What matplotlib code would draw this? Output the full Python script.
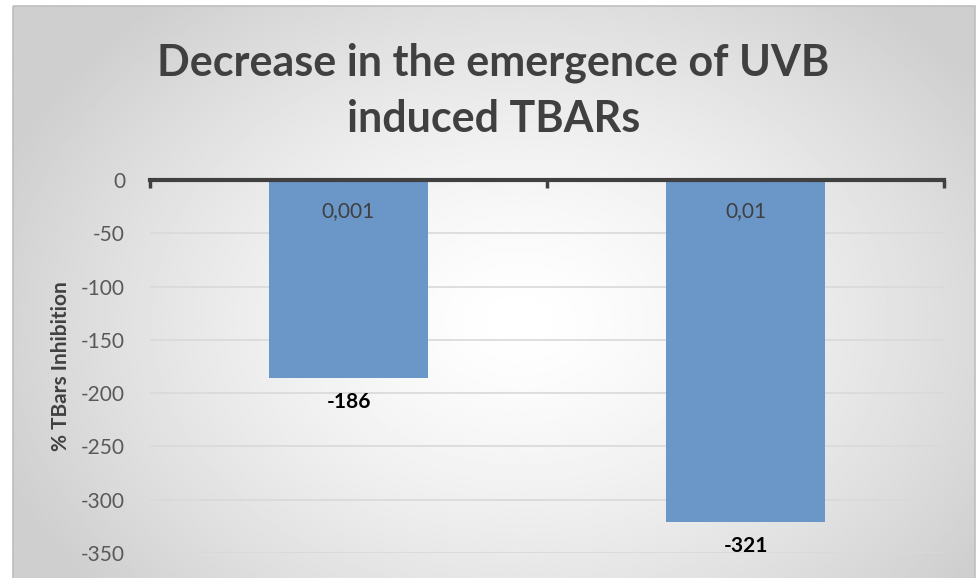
import numpy as np
import matplotlib.pyplot as plt
from matplotlib.patches import Rectangle

plt.rcParams['font.family'] = ['Lato', 'DejaVu Sans']

# data
categories = ['0,001', '0,01']
values = [-186, -321]
yticks = [0, -50, -100, -150, -200, -250, -300, -350]

W, H = 977, 578
fig = plt.figure(figsize=(W / 100, H / 100), dpi=100)

# background with radial gradient
bg = fig.add_axes([0, 0, 1, 1])
bg.set_xlim(0, W)
bg.set_ylim(H, 0)
bg.axis('off')
xx, yy = np.meshgrid(np.linspace(13, 975, 400), np.linspace(6, 578, 250))
r = np.sqrt(((xx - 520) / 560) ** 2 + ((yy - 320) / 420) ** 2)
r = np.clip(r, 0, 1)
shade = 1.0 - 0.19 * r ** 1.4
bg.imshow(shade, cmap='gray', vmin=0, vmax=1, extent=[13, 975, 578, 6],
          aspect='auto', interpolation='bilinear')
bg.add_patch(Rectangle((13, 6), 962, 580, fill=False, edgecolor='#bfbfbf', lw=1.2))

# title
fig.text(0.505, 1 - 63 / H, 'Decrease in the emergence of UVB', ha='center', va='center',
         fontsize=31, fontweight='bold', color='#404040')
fig.text(0.505, 1 - 119 / H, 'induced TBARs', ha='center', va='center',
         fontsize=31, fontweight='bold', color='#404040')

ax = fig.add_axes([150 / W, 1 - 553 / H, (944 - 150) / W, (553 - 180) / H])
ax.patch.set_alpha(0)
x = np.arange(len(categories))
bars = ax.bar(x, values, width=0.4, color='#6a96c8', zorder=3)
ax.set_xlim(-0.5, 1.5)
ax.set_ylim(-350, 0)
ax.set_yticks(yticks)
ax.set_yticklabels([str(t) for t in yticks])
ax.tick_params(axis='y', length=0, labelsize=15, labelcolor='#595959', pad=18)
ax.grid(axis='y', color='#d9d9d9', lw=1.2, zorder=0)
ax.set_axisbelow(True)

for s in ['top', 'right', 'left']:
    ax.spines[s].set_visible(False)
ax.spines['bottom'].set_position(('data', 0))
ax.spines['bottom'].set_color('#404040')
ax.spines['bottom'].set_linewidth(3)
ax.spines['bottom'].set_zorder(5)
ax.set_xticks([-0.5, 0.5, 1.5])
ax.set_xticklabels(['', '', ''])
ax.tick_params(axis='x', direction='out', length=6, width=2.5, color='#404040')

for xi, cat, v in zip(x, categories, values):
    ax.text(xi, -29, cat, ha='center', va='center', fontsize=15, color='#404040', zorder=6)
    ax.text(xi, v - 22, str(v), ha='center', va='center', fontsize=15, fontweight='bold',
            color='black', zorder=6)

ax.set_ylabel('% TBars Inhibition', fontsize=15, fontweight='bold', color='#404040', labelpad=7)

fig.savefig('out.png', dpi=100)
